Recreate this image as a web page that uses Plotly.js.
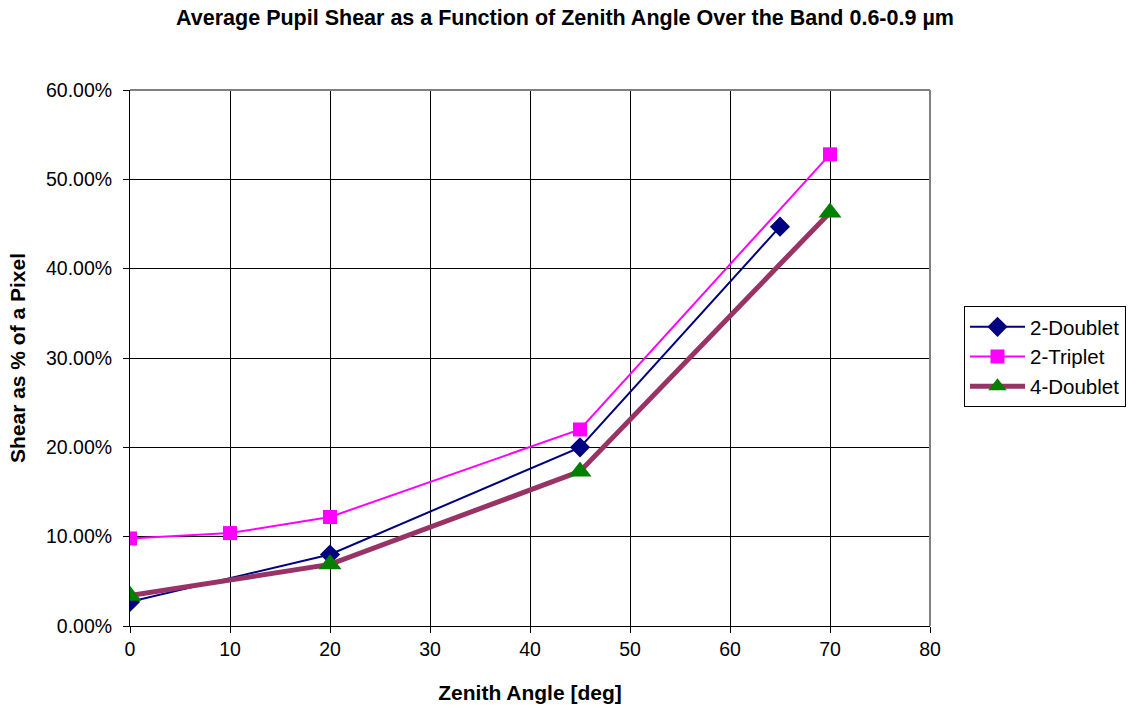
<!DOCTYPE html>
<html>
<head>
<meta charset="utf-8">
<script src="https://cdn.plot.ly/plotly-3.0.1.min.js"></script>
<style>html,body{margin:0;padding:0;background:#fff;}#chart{width:1130px;height:709px;}</style>
</head>
<body>
<div id="chart"></div>
<script>
const doubletX = [0, 20, 45, 65];
const doubletY = [0.027, 0.080, 0.200, 0.447];
const tripletX = [0, 10, 20, 45, 70];
const tripletY = [0.098, 0.104, 0.122, 0.220, 0.528];
const quadX = [0, 20, 45, 70];
const quadY = [0.034, 0.069, 0.173, 0.463];
const xTicks = [0, 10, 20, 30, 40, 50, 60, 70, 80];
const yTicks = [0, 0.1, 0.2, 0.3, 0.4, 0.5, 0.6];

const FONT = 'Liberation Sans, Arial, sans-serif';

const traces = [
  {x: doubletX, y: doubletY, name: '2-Doublet', mode: 'lines+markers',
   line: {color: '#000080', width: 2}, marker: {symbol: 'diamond', size: 15.5, color: '#000080'}},
  {x: tripletX, y: tripletY, name: '2-Triplet', mode: 'lines+markers',
   line: {color: '#FF00FF', width: 2}, marker: {symbol: 'square', size: 14, color: '#FF00FF'}},
  {x: quadX, y: quadY, name: '4-Doublet', mode: 'lines+markers',
   line: {color: '#993366', width: 5}, marker: {symbol: 'triangle-up', size: 20, color: '#008000'}}
];

const layout = {
  width: 1130, height: 709,
  margin: {l: 130, r: 200, t: 90, b: 83},
  paper_bgcolor: '#fff', plot_bgcolor: '#fff',
  font: {family: FONT, size: 19.5, color: '#000'},
  title: {text: '<b>Average Pupil Shear as a Function of Zenith Angle Over the Band 0.6-0.9 µm</b>',
          x: 0.5, xref: 'container', y: 0.976, yanchor: 'middle', font: {family: FONT, size: 21.5}},
  xaxis: {range: [0, 80], tickvals: xTicks, ticktext: xTicks.map(String),
          showgrid: true, gridcolor: '#000', gridwidth: 1, zeroline: false,
          showline: true, linecolor: '#000', linewidth: 1, mirror: false,
          ticks: 'outside', ticklen: 6, tickcolor: '#000',
          tickfont: {family: FONT, size: 19.5},
          title: {text: '<b>Zenith Angle [deg]</b>', font: {family: FONT, size: 21}, standoff: 25}},
  yaxis: {range: [0, 0.6], tickvals: yTicks, tickformat: '.2%',
          showgrid: true, gridcolor: '#000', gridwidth: 1, zeroline: false,
          showline: true, linecolor: '#000', linewidth: 1, mirror: false,
          ticks: 'outside', ticklen: 6, tickcolor: '#000', ticklabelstandoff: 7,
          tickfont: {family: FONT, size: 19.5},
          title: {text: '<b>Shear as % of a Pixel</b>', font: {family: FONT, size: 21}, standoff: 14}},
  legend: {xref: 'container', yref: 'container', x: 964 / 1130, xanchor: 'left',
           y: 1 - 306 / 709, yanchor: 'top',
           bordercolor: '#000', borderwidth: 1, bgcolor: '#fff',
           font: {family: FONT, size: 20.5}, itemwidth: 55, tracegroupgap: 0},
  shapes: [
    {type: 'line', xref: 'paper', yref: 'paper', x0: 0, x1: 1, y0: 1, y1: 1,
     line: {color: '#808080', width: 2}, layer: 'above'},
    {type: 'line', xref: 'paper', yref: 'paper', x0: 1, x1: 1, y0: 0, y1: 1,
     line: {color: '#808080', width: 2}, layer: 'above'}
  ],
  showlegend: true
};

Plotly.newPlot('chart', traces, layout, {displayModeBar: false, staticPlot: true});
</script>
</body>
</html>
